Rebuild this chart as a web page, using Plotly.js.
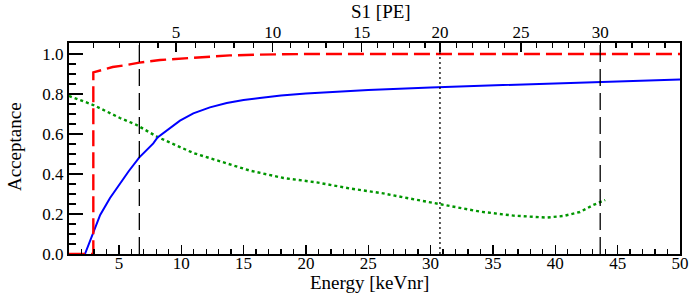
<!DOCTYPE html>
<html>
<head>
<meta charset="utf-8">
<script src="https://cdn.plot.ly/plotly-3.0.1.min.js"></script>
<style>html,body{margin:0;padding:0;background:#fff;}#chart{width:696px;height:302px;}</style>
</head>
<body>
<div id="chart"></div>
<script>
// ---- Data ----
// Red dashed curve (threshold acceptance)
const redEnergy = [1, 2.95, 2.95, 3.73, 4.5, 5.63, 6.64, 8.3, 10.9, 13.9, 16.3, 20, 50];
const redAcc    = [0, 0, 0.908, 0.923, 0.935, 0.945, 0.957, 0.970, 0.980, 0.993, 0.997, 1.0, 1.0];

// Blue solid curve
const blueEnergy = [2.28, 2.95, 3.5, 4.29, 5.09, 5.8, 6.64, 7.76, 8.1, 9.1, 9.9, 10.97, 12.3, 13.65, 15, 16.3, 18, 20, 25, 30, 35, 40, 43.6, 46.5, 50];
const blueAcc    = [0, 0.11, 0.195, 0.28, 0.353, 0.415, 0.483, 0.553, 0.583, 0.632, 0.667, 0.703, 0.733, 0.755, 0.770, 0.780, 0.793, 0.803, 0.820, 0.833, 0.843, 0.852, 0.857, 0.865, 0.873];

// Green dotted curve
const greenEnergy = [1, 2.95, 5.09, 6.43, 8.1, 9.9, 10.97, 13.65, 15.5, 18.2, 20.87, 23.5, 26.2, 28.1, 30.75, 33.96, 36.63, 39.3, 40.64, 41.98, 43.05, 44];
const greenAcc    = [0.79, 0.745, 0.68, 0.645, 0.585, 0.537, 0.505, 0.453, 0.417, 0.38, 0.358, 0.328, 0.303, 0.28, 0.25, 0.212, 0.192, 0.182, 0.19, 0.21, 0.245, 0.27];

// Top axis: S1 [PE] values and the energy [keVnr] where each sits
const s1Values = [1, 2, 3, 4, 5, 6, 7, 8, 9, 10, 11, 12, 13, 14, 15, 16, 17, 18, 19, 20, 21, 22, 23, 24, 25, 26, 27, 28, 29, 30, 31, 32, 33, 34];
const s1Energy = [2.95, 5.03, 6.64, 8.14, 9.58, 11.13, 12.68, 14.23, 15.78, 17.33, 18.76, 20.19, 21.61, 23.04, 24.47, 25.72, 27.0, 28.29, 29.55, 30.75, 32.09, 33.37, 34.63, 35.9, 37.25, 38.5, 39.79, 41.07, 42.32, 43.6, 44.87, 46.15, 47.45, 48.8];
const s1Labelled = [5, 10, 15, 20, 25, 30];

// Cut lines at S1 values
const cutS1Dashed = [3, 30];
const cutS1Dotted = [20];

// Axis titles
const xTitle = 'Energy [keVnr]';
const x2Title = 'S1 [PE]';
const yTitle = 'Acceptance';

// ---- Build ----
const yTop = 1.055;
const eOf = s => s1Energy[s1Values.indexOf(s)];
const majorVals = s1Labelled.map(eOf);
const minorVals = s1Values.filter(s => s1Labelled.indexOf(s) < 0).map(eOf);

function vline(e, dash, w) {
  return {x: [e, e], y: [0, yTop], xaxis: 'x2', yaxis: 'y', mode: 'lines',
          line: {color: '#000', width: w, dash: dash}, hoverinfo: 'skip', showlegend: false};
}

const traces = [];
cutS1Dashed.forEach(s => traces.push(vline(eOf(s), '17px,7px', 1.3)));
cutS1Dotted.forEach(s => traces.push(vline(eOf(s), '2px,3px', 1.3)));
traces.push({x: greenEnergy, y: greenAcc, mode: 'lines', line: {color: '#009600', width: 2.4, dash: '3px,3px'}, showlegend: false});
traces.push({x: blueEnergy, y: blueAcc, mode: 'lines', line: {color: '#0000ff', width: 2}, showlegend: false});
traces.push({x: redEnergy, y: redAcc, mode: 'lines', line: {color: '#ff0000', width: 2.4, dash: '16px,6px'}, showlegend: false});

const serif = '"Liberation Serif", "Times New Roman", serif';
const tickFont = {family: serif, size: 17, color: '#000'};
const titleFont = {family: serif, size: 19, color: '#000'};

const layout = {
  width: 696, height: 302,
  margin: {l: 69, r: 16, t: 43, b: 48},
  paper_bgcolor: '#fff', plot_bgcolor: '#fff',
  font: {family: serif, color: '#000'},
  showlegend: false,
  xaxis: {
    range: [1, 50], showgrid: false, zeroline: false,
    showline: true, linecolor: '#000', linewidth: 2, mirror: false,
    ticks: 'inside', ticklen: 9, tickwidth: 1.3, tickcolor: '#000',
    tick0: 0, dtick: 5, tickfont: tickFont, ticklabelstandoff: -7,
    minor: {dtick: 1, tick0: 0, ticks: 'inside', ticklen: 5, tickwidth: 1.3, tickcolor: '#000', showgrid: false}
  },
  xaxis2: {
    overlaying: 'x', side: 'top', anchor: 'y',
    range: [1, 50], showgrid: false, zeroline: false,
    showline: true, linecolor: '#000', linewidth: 2,
    ticks: 'inside', ticklen: 9, tickwidth: 1.3, tickcolor: '#000',
    tickmode: 'array', tickvals: majorVals, ticktext: s1Labelled.map(String), tickfont: tickFont, ticklabelstandoff: -4,
    minor: {tickmode: 'array', tickvals: minorVals, ticks: 'inside', ticklen: 5, tickwidth: 1.3, tickcolor: '#000', showgrid: false}
  },
  yaxis: {
    range: [0, yTop], showgrid: false, zeroline: false,
    showline: true, linecolor: '#000', linewidth: 2, mirror: true,
    ticks: 'inside', ticklen: 14, tickwidth: 1.3, tickcolor: '#000',
    tick0: 0, dtick: 0.2, tickformat: '.1f', tickfont: tickFont,
    minor: {dtick: 0.05, tick0: 0, ticks: 'inside', ticklen: 7, tickwidth: 1.3, tickcolor: '#000', showgrid: false}
  },
  annotations: [
    {text: xTitle, xref: 'paper', yref: 'paper', x: 0.491, y: -0.136, xanchor: 'center', yanchor: 'middle', showarrow: false, borderpad: 0, font: titleFont},
    {text: x2Title, xref: 'paper', yref: 'paper', x: 0.511, y: 1.15, xanchor: 'center', yanchor: 'middle', showarrow: false, borderpad: 0, font: titleFont},
    {text: yTitle, xref: 'paper', yref: 'paper', x: -0.09, y: 0.507, xanchor: 'center', yanchor: 'middle', textangle: -90, showarrow: false, borderpad: 0, font: titleFont}
  ]
};

Plotly.newPlot('chart', traces, layout, {staticPlot: true, displayModeBar: false});
</script>
</body>
</html>
